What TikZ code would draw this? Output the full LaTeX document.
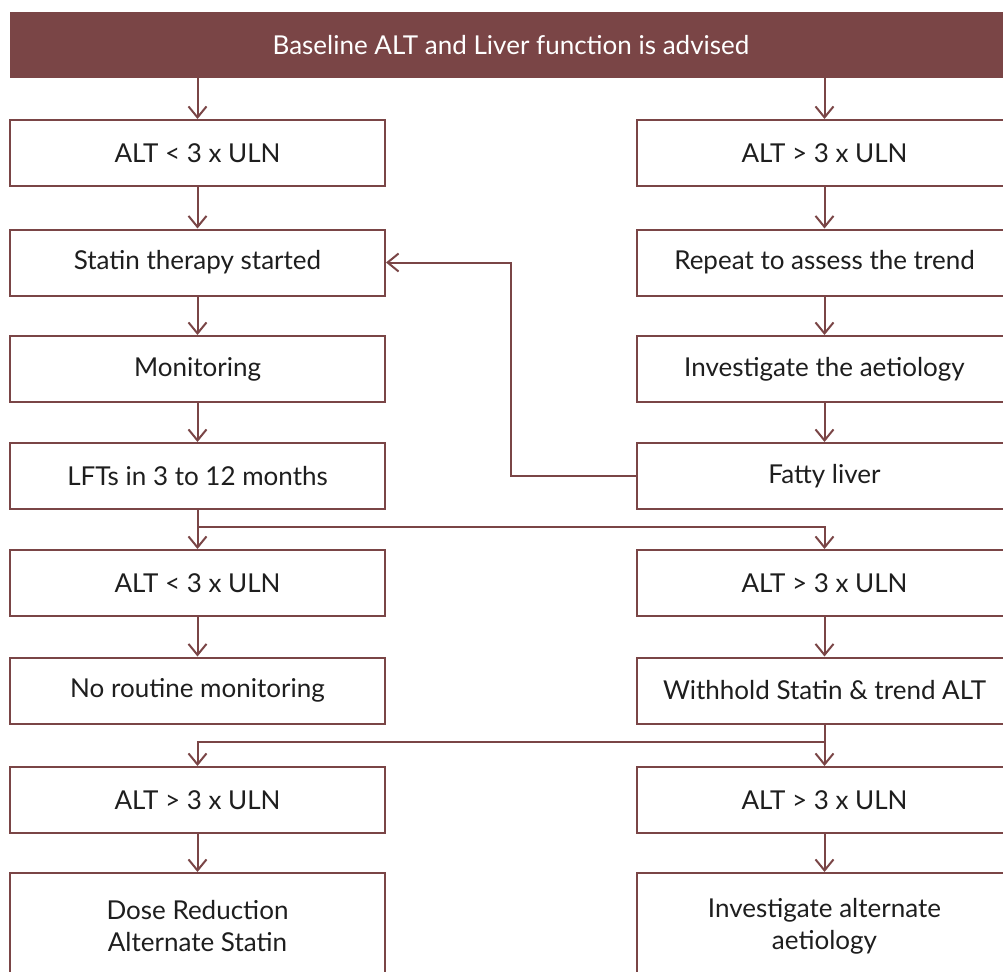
\documentclass[tikz,border=0pt]{standalone}
\usepackage{fontspec}
\setmainfont{Lato}
\usetikzlibrary{arrows.meta}
\definecolor{maroon}{HTML}{7A4546}
\definecolor{ink}{HTML}{1E1E1E}
\begin{document}
\begin{tikzpicture}[x=1pt,y=-1pt,
  box/.style={draw=maroon, line width=2pt, fill=white, minimum width=375pt,
    minimum height=66pt, inner sep=0pt, text=ink, align=center,
    font=\fontsize{26}{32}\selectfont},
  banner/.style={fill=maroon, minimum width=1002pt, minimum height=66pt,
    inner sep=0pt, text=white, font=\fontsize{26}{30}\selectfont},
  link/.style={draw=maroon, line width=2pt,
    -{Straight Barb[length=11pt,width=18pt,line width=2pt]}},
]
\clip (0,0) rectangle (1003,971);

% header
\node[banner] (top) at (511,45) {Baseline ALT and Liver function is advised};

% left column
\node[box] (l1) at (197.5,153)   {ALT < 3 x ULN};
\node[box] (l2) at (197.5,262.5) {Statin therapy started};
\node[box] (l3) at (197.5,369)   {Monitoring};
\node[box] (l4) at (197.5,476)   {LFTs in 3 to 12 months};
\node[box] (l5) at (197.5,583)   {ALT < 3 x ULN};
\node[box] (l6) at (197.5,690.5) {No routine monitoring};
\node[box] (l7) at (197.5,800)   {ALT > 3 x ULN};
\node[box, minimum height=106pt] (l8) at (197.5,926) {Dose Reduction\\Alternate Statin};

% right column
\node[box] (r1) at (824.5,153)   {ALT > 3 x ULN};
\node[box] (r2) at (824.5,262.5) {Repeat to assess the trend};
\node[box] (r3) at (824.5,369)   {Investigate the aetiology};
\node[box] (r4) at (824.5,476)   {Fatty liver};
\node[box] (r5) at (824.5,583)   {ALT > 3 x ULN};
\node[box] (r6) at (824.5,690.5) {Withhold Statin \& trend ALT};
\node[box] (r7) at (824.5,800)   {ALT > 3 x ULN};
\node[box, minimum height=106pt] (r8) at (824.5,926) {Investigate alternate\\aetiology};

% junction points
\coordinate (loop) at (511,0);
\coordinate (s1) at (197.5,527);
\coordinate (s2) at (824.5,742);

% connectors from the header
\draw[link] (top.south -| l1.north) -- (l1.north);
\draw[link] (top.south -| r1.north) -- (r1.north);

% left chain
\draw[link] (l1) -- (l2);
\draw[link] (l2) -- (l3);
\draw[link] (l3) -- (l4);
\draw[link] (l4) -- (l5);
\draw[link] (l5) -- (l6);
\draw[link] (l7) -- (l8);

% right chain
\draw[link] (r1) -- (r2);
\draw[link] (r2) -- (r3);
\draw[link] (r3) -- (r4);
\draw[link] (r5) -- (r6);
\draw[link] (r6) -- (r7);
\draw[link] (r7) -- (r8);

% fatty liver back to statin therapy
\draw[link] (r4.west) -- (r4.west -| loop) |- (l2.east);

% branches
\draw[link] (s1) -| (r5.north);
\draw[link] (s2) -| (l7.north);
\end{tikzpicture}
\end{document}
